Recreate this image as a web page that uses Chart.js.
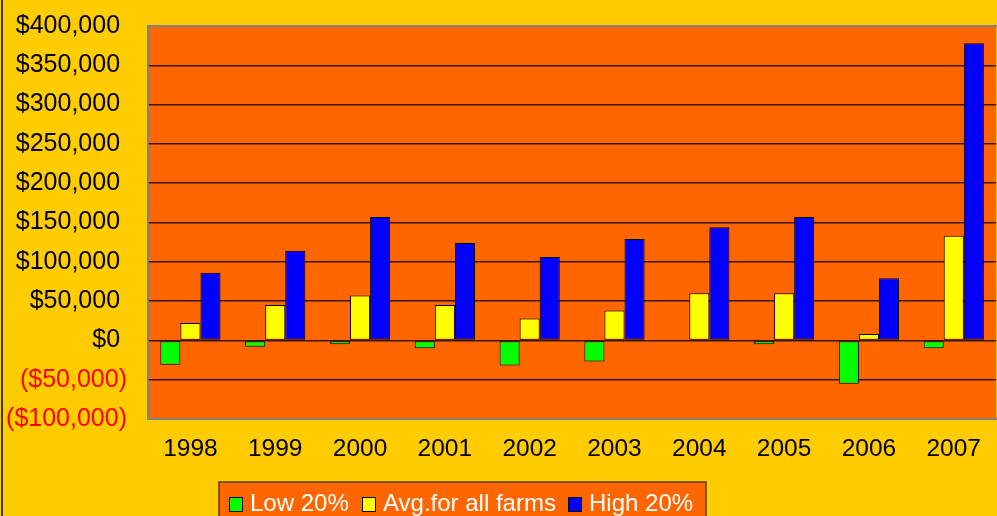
<!DOCTYPE html>
<html>
<head>
<meta charset="utf-8">
<script src="https://cdn.jsdelivr.net/npm/chart.js@4"></script>
<style>
  html, body { margin: 0; padding: 0; background: #FFCC00; }
  #wrap { position: relative; width: 997px; height: 516px; }
</style>
</head>
<body>
<div id="wrap"><canvas id="farmChart" width="997" height="516"></canvas></div>
<script>
// ---- data ----
var years = ["1998", "1999", "2000", "2001", "2002", "2003", "2004", "2005", "2006", "2007"];
var low20 = [-31000, -8000, -5000, -10000, -32000, -27000, null, -5000, -55000, -10000];
var avgAll = [22000, 45000, 57000, 45000, 28000, 38000, 60000, 60000, 8000, 133000];
var high20 = [86000, 114000, 157000, 124000, 106000, 129000, 144000, 157000, 79000, 378000];
var seriesNames = ["Low 20%", "Avg.for all farms", "High 20%"];
var seriesColors = ["#00FF00", "#FFFF00", "#0000FF"];

var FONT = "'Liberation Sans', Arial, sans-serif";

// accounting style: negatives in parentheses, positives keep room for the ")"
function money(v) {
  var s = "$" + Math.abs(v).toLocaleString("en-US");
  return v < 0 ? "(" + s + ")" : s + " ";
}

// orange plot area + gray frame + left rule + legend panel
var plotBg = {
  id: "plotBg",
  beforeDraw: function (chart) {
    var ctx = chart.ctx, a = chart.chartArea;
    ctx.save();
    ctx.fillStyle = "#FF6600";
    ctx.fillRect(a.left, a.top, a.right - a.left, a.bottom - a.top);
    ctx.restore();
  },
  afterDraw: function (chart) {
    var ctx = chart.ctx, a = chart.chartArea;
    ctx.save();
    ctx.strokeStyle = "#808080";
    ctx.lineWidth = 2;
    ctx.beginPath();
    ctx.moveTo(a.right + 2, a.top);
    ctx.lineTo(a.left, a.top);
    ctx.lineTo(a.left, a.bottom);
    ctx.lineTo(a.right + 2, a.bottom);
    ctx.stroke();
    // thin dark rule at the far left
    ctx.strokeStyle = "#3a3a1a";
    ctx.lineWidth = 2;
    ctx.beginPath();
    ctx.moveTo(2, 0);
    ctx.lineTo(2, chart.height);
    ctx.stroke();

    // legend box
    var lx = 219, ly = 482, lw = 487, lh = 40;
    ctx.fillStyle = "#FF6600";
    ctx.fillRect(lx, ly, lw, lh);
    ctx.strokeStyle = "#5a3a00";
    ctx.lineWidth = 1.5;
    ctx.strokeRect(lx, ly, lw, lh);
    ctx.font = "24px " + FONT;
    ctx.textBaseline = "alphabetic";
    var boxX = [229, 362, 568];
    chart.data.datasets.forEach(function (ds, i) {
      ctx.fillStyle = ds.backgroundColor;
      ctx.fillRect(boxX[i], 497, 13, 14);
      ctx.strokeStyle = "#000";
      ctx.lineWidth = 1;
      ctx.strokeRect(boxX[i] + 0.5, 497.5, 13, 14);
      ctx.fillStyle = "#FFFFFF";
      ctx.fillText(ds.label, boxX[i] + 21, 511);
    });
    ctx.restore();
  }
};

var datasets = [low20, avgAll, high20].map(function (vals, i) {
  return {
    label: seriesNames[i],
    data: vals,
    backgroundColor: seriesColors[i],
    borderColor: "#000000",
    borderWidth: 1,
    borderSkipped: false,
    barPercentage: 1.0,
    categoryPercentage: 0.71
  };
});

new Chart(document.getElementById("farmChart"), {
  type: "bar",
  data: { labels: years, datasets: datasets },
  plugins: [plotBg],
  options: {
    responsive: false,
    animation: false,
    layout: { padding: { top: 26, right: 0, bottom: 47, left: 0 } },
    plugins: {
      legend: { display: false },
      tooltip: { enabled: false }
    },
    scales: {
      x: {
        grid: { display: false, drawTicks: false },
        border: { display: false },
        ticks: {
          color: "#000",
          font: { family: FONT, size: 24.5 },
          padding: 16,
          maxRotation: 0
        },
        afterFit: function (axis) { axis.height = 50; }
      },
      y: {
        min: -100000,
        max: 400000,
        grid: { color: "#3a1500", lineWidth: 1.5, drawTicks: true, tickLength: 21, tickColor: "rgba(0,0,0,0)" },
        border: { display: false },
        ticks: {
          stepSize: 50000,
          padding: 0,
          font: { family: FONT, size: 25 },
          color: function (c) { return c.tick && c.tick.value < 0 ? "#FF0000" : "#000000"; },
          callback: function (v) { return money(v); }
        },
        afterFit: function (axis) { axis.width = 148; }
      }
    }
  }
});
</script>
</body>
</html>
